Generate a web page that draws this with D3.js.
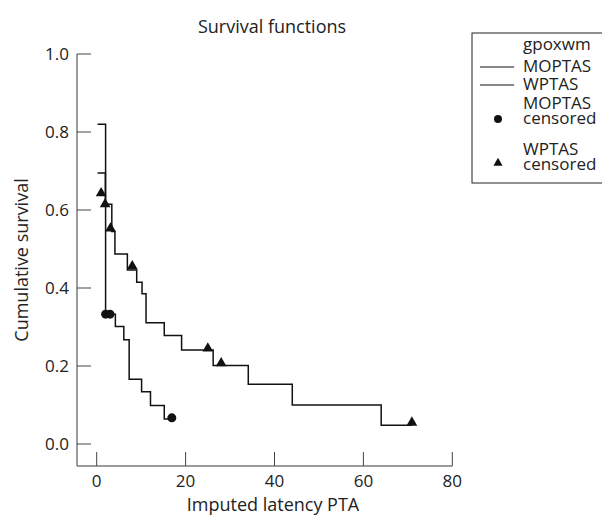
<!DOCTYPE html>
<html>
<head>
<meta charset="utf-8">
<script src="https://cdn.jsdelivr.net/npm/d3@7"></script>
<style>
	body { margin: 0; background: white; }
	svg text { font-family: 'Open Sans', 'Noto Sans', sans-serif; fill: #222; }
</style>
</head>
<body>
<div id="chart_div"></div>
<script>
//values
var mop_times = [0.2, 2.0, 4.2, 6.1, 7.3, 10.1, 12.1, 15.2];
var mop_survival = [0.82, 0.333, 0.301, 0.267, 0.166, 0.134, 0.099, 0.064];
var mop_end = 16.9;

var wp_times = [0.2, 1.95, 3.4, 4.1, 6.9, 9.0, 10.2, 11.1, 15.2, 19.1, 26.2, 34.1, 44.0, 64.0];
var wp_survival = [0.695, 0.615, 0.545, 0.487, 0.446, 0.415, 0.385, 0.311, 0.278, 0.241, 0.201, 0.153, 0.1, 0.048];
var wp_end = 70.9;

var mop_censored_times = [2.0, 3.0, 16.9];
var mop_censored_values = [0.333, 0.333, 0.067];
var wp_censored_times = [1.0, 1.9, 3.1, 8.0, 25.0, 28.0, 70.9];
var wp_censored_values = [0.643, 0.615, 0.553, 0.456, 0.245, 0.207, 0.055];

var x_ticks = [0, 20, 40, 60, 80];
var y_ticks = [0, 0.2, 0.4, 0.6, 0.8, 1.0];
var legend_labels = ['gpoxwm', 'MOPTAS', 'WPTAS', 'MOPTAS', 'censored', 'WPTAS', 'censored'];

var width = 602;
var height = 517;

function draw_chart() {
	var svg = d3.select('#chart_div')
		.append('svg')
		.attr('width', width)
		.attr('height', height);

	var x_scale = d3.scaleLinear().domain([0, 80]).range([96.7, 452.3]);
	var y_scale = d3.scaleLinear().domain([0, 1]).range([444, 54]);

	draw_axes(svg, x_scale, y_scale);

	var step_line = d3.line()
		.x((d) => x_scale(d[0]))
		.y((d) => y_scale(d[1]))
		.curve(d3.curveStepAfter);

	draw_curve(svg, step_line, mop_times, mop_survival, mop_end);
	draw_curve(svg, step_line, wp_times, wp_survival, wp_end);

	svg.selectAll('.mop_censored')
		.data(mop_censored_times)
		.enter()
		.append('circle')
		.attr('class', 'mop_censored')
		.attr('cx', (d) => x_scale(d))
		.attr('cy', (d, i) => y_scale(mop_censored_values[i]))
		.attr('r', 4.5)
		.attr('fill', '#111');

	svg.selectAll('.wp_censored')
		.data(wp_censored_times)
		.enter()
		.append('path')
		.attr('class', 'wp_censored')
		.attr('d', d3.symbol().type(d3.symbolTriangle).size(50))
		.attr('transform', (d, i) => 'translate(' + x_scale(d) + ',' + y_scale(wp_censored_values[i]) + ')')
		.attr('fill', '#111');

	svg.append('text')
		.attr('x', 272)
		.attr('y', 33)
		.attr('text-anchor', 'middle')
		.attr('font-size', 18)
		.text('Survival functions');

	draw_legend(svg);
}

function draw_curve(svg, step_line, times, values, end_time) {
	var points = times.map((t, i) => [t, values[i]]);
	points.push([end_time, values[values.length - 1]]);
	svg.append('path')
		.attr('d', step_line(points))
		.attr('fill', 'none')
		.attr('stroke', '#111')
		.attr('stroke-width', 1.5);
}

function draw_axes(svg, x_scale, y_scale) {
	var axis_colour = '#7a7a7a';
	var axis_left = 77;
	var axis_bottom = 466;

	svg.append('line')
		.attr('x1', axis_left)
		.attr('x2', axis_left)
		.attr('y1', y_scale(1))
		.attr('y2', axis_bottom)
		.attr('stroke', axis_colour)
		.attr('stroke-width', 1.5);

	svg.append('line')
		.attr('x1', axis_left)
		.attr('x2', x_scale(80))
		.attr('y1', axis_bottom)
		.attr('y2', axis_bottom)
		.attr('stroke', axis_colour)
		.attr('stroke-width', 1.5);

	svg.selectAll('.y_tick')
		.data(y_ticks)
		.enter()
		.append('line')
		.attr('class', 'y_tick')
		.attr('x1', axis_left)
		.attr('x2', axis_left + 14)
		.attr('y1', (d) => y_scale(d))
		.attr('y2', (d) => y_scale(d))
		.attr('stroke', '#444')
		.attr('stroke-width', 1);

	svg.selectAll('.y_label')
		.data(y_ticks)
		.enter()
		.append('text')
		.attr('class', 'y_label')
		.attr('x', 69)
		.attr('y', (d) => y_scale(d) + 6)
		.attr('text-anchor', 'end')
		.attr('font-size', 17)
		.text((d) => d3.format('.1f')(d));

	svg.selectAll('.x_tick')
		.data(x_ticks)
		.enter()
		.append('line')
		.attr('class', 'x_tick')
		.attr('x1', (d) => x_scale(d))
		.attr('x2', (d) => x_scale(d))
		.attr('y1', axis_bottom)
		.attr('y2', axis_bottom - 14)
		.attr('stroke', '#444')
		.attr('stroke-width', 1);

	svg.selectAll('.x_label')
		.data(x_ticks)
		.enter()
		.append('text')
		.attr('class', 'x_label')
		.attr('x', (d) => x_scale(d))
		.attr('y', 487)
		.attr('text-anchor', 'middle')
		.attr('font-size', 17)
		.text((d) => d);

	svg.append('text')
		.attr('x', 273)
		.attr('y', 511)
		.attr('text-anchor', 'middle')
		.attr('font-size', 18)
		.text('Imputed latency PTA');

	svg.append('text')
		.attr('transform', 'translate(28,260) rotate(-90)')
		.attr('text-anchor', 'middle')
		.attr('font-size', 18)
		.text('Cumulative survival');
}

function draw_legend(svg) {
	var text_x = 523;
	var baselines = [50, 72, 90, 109, 124, 155, 170];

	svg.append('rect')
		.attr('x', 472)
		.attr('y', 33)
		.attr('width', 150)
		.attr('height', 150)
		.attr('fill', 'white')
		.attr('stroke', '#222')
		.attr('stroke-width', 1);

	svg.selectAll('.legend_text')
		.data(legend_labels)
		.enter()
		.append('text')
		.attr('class', 'legend_text')
		.attr('x', text_x)
		.attr('y', (d, i) => baselines[i])
		.attr('font-size', 17)
		.text((d) => d);

	svg.selectAll('.legend_line')
		.data([1, 2])
		.enter()
		.append('line')
		.attr('class', 'legend_line')
		.attr('x1', 480)
		.attr('x2', 514)
		.attr('y1', (d) => baselines[d] - 5)
		.attr('y2', (d) => baselines[d] - 5)
		.attr('stroke', '#111')
		.attr('stroke-width', 1.2);

	svg.append('circle')
		.attr('cx', 498)
		.attr('cy', 119)
		.attr('r', 4)
		.attr('fill', '#111');

	svg.append('path')
		.attr('d', d3.symbol().type(d3.symbolTriangle).size(36))
		.attr('transform', 'translate(498,163)')
		.attr('fill', '#111');
}

draw_chart();
</script>
</body>
</html>
